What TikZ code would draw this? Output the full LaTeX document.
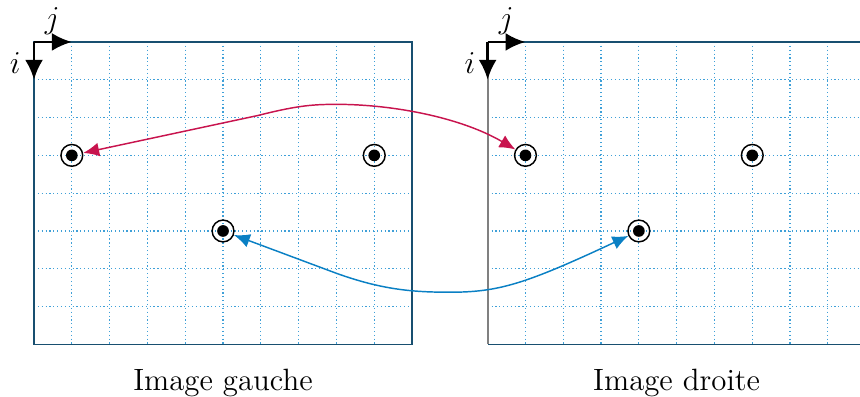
\documentclass[tikz,border=0pt]{standalone}
\usetikzlibrary{arrows.meta}
\definecolor{gridc}{HTML}{3FA0D8}
\definecolor{borderc}{HTML}{184F70}
\definecolor{redc}{HTML}{C8144E}
\definecolor{bluec}{HTML}{0A80C4}
\tikzset{
  gridline/.style={gridc, densely dotted, line width=0.45pt},
  borderline/.style={borderc, line width=0.5pt},
  leftedge/.style={black!50, line width=0.8pt},
  axisarrow/.style={black, line width=1.1pt, -{Latex[length=7.5pt,width=6.8pt]}},
  axislabel/.style={font=\large, inner sep=0pt},
  pt/.style={circle, draw=black, line width=0.55pt, minimum size=8.2pt, inner sep=0pt,
    path picture={\fill[black] (path picture bounding box.center) circle (2.2pt);}},
  redarrow/.style={redc, line width=0.55pt, {Latex[length=6pt,width=5.2pt]}-{Latex[length=6pt,width=5.2pt]}},
  bluearrow/.style={bluec, line width=0.55pt, {Latex[length=6pt,width=5.2pt]}-{Latex[length=6pt,width=5.2pt]}},
  caption/.style={font=\fontsize{11.6}{14}\selectfont, anchor=base, inner sep=0pt}
}
\begin{document}
\begin{tikzpicture}[x=0.5cm,y=-0.5cm]
\useasboundingbox (-0.9,-1.11) rectangle (21.85,9.39);
\begin{scope}
\clip (-0.9,-1.11) rectangle (21.85,9.39);
% left grid
\foreach \k in {1,...,9} \draw[gridline] (\k,0) -- (\k,8);
\foreach \k in {1,...,7} \draw[gridline] (0,\k) -- (10,\k);
\draw[borderline] (0,0) rectangle (10,8);
% right grid
\foreach \k in {13,...,21} \draw[gridline] (\k,0) -- (\k,8);
\foreach \k in {1,...,7} \draw[gridline] (12,\k) -- (22,\k);
\draw[borderline] (12,0) -- (22,0) -- (22,8) -- (12,8);
\draw[leftedge] (12,0) -- (12,8);
\end{scope}
% axes
\coordinate (O1) at (0,0);
\coordinate (J1) at (1,0);
\coordinate (I1) at (0,1);
\coordinate (O2) at (12,0);
\coordinate (J2) at (13,0);
\coordinate (I2) at (12,1);
\draw[axisarrow] (O1) -- (J1);
\draw[axisarrow] (O1) -- (I1);
\draw[axisarrow] (O2) -- (J2);
\draw[axisarrow] (O2) -- (I2);
\node[axislabel] (j1) at (0.48,-0.55) {$j$};
\node[axislabel] (i1) at (-0.5,0.55) {$i$};
\node[axislabel] (j2) at (12.49,-0.55) {$j$};
\node[axislabel] (i2) at (11.53,0.55) {$i$};
% points
\node[pt] (a) at (1,3) {};
\node[pt] (b) at (9,3) {};
\node[pt] (c) at (5,5) {};
\node[pt] (a2) at (13,3) {};
\node[pt] (b2) at (19,3) {};
\node[pt] (c2) at (16,5) {};
% correspondences
\draw[redarrow] (a) -- (5.9,1.95) .. controls (6.9,1.7) and (7.3,1.65) .. (8,1.65)
  .. controls (9.5,1.65) and (11.3,2.0) .. (a2);
\draw[bluearrow] (c) -- (8,6.12) .. controls (9.2,6.55) and (10,6.62) .. (11,6.62)
  .. controls (12.3,6.62) and (13,6.4) .. (c2);
% captions
\node[caption] (lg) at (5,9.21) {Image gauche};
\node[caption] (ld) at (17,9.21) {Image droite};
\end{tikzpicture}
\end{document}
